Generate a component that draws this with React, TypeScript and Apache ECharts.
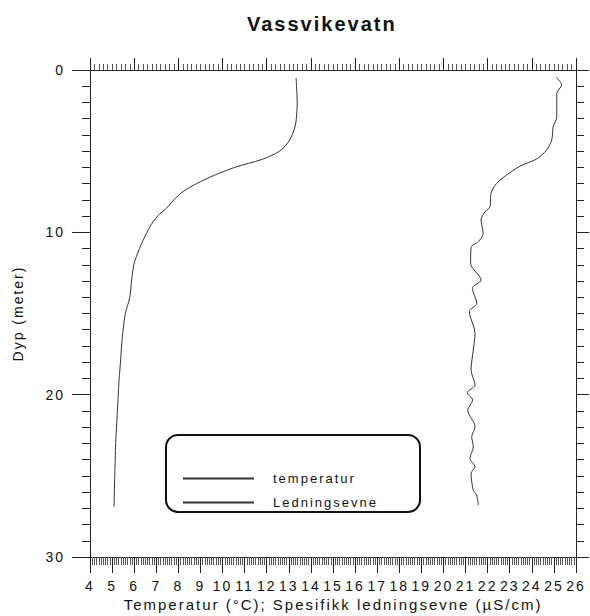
import React, { useEffect, useRef } from "react";
import * as echarts from "echarts";

const titleText = "Vassvikevatn";
const xName = "Temperatur (°C); Spesifikk ledningsevne (µS/cm)";
const yName = "Dyp (meter)";
const xMin = 4;
const xMax = 26;
const yMin = 0;
const yMax = 30;

const tempDepth = [0.5, 1, 2, 3, 3.5, 4, 4.5, 5, 5.5, 6, 6.5, 7, 7.5, 8, 8.5, 9, 9.5, 10, 10.5, 11, 11.5, 12, 13, 14, 15, 16, 17, 18, 19, 20, 21, 22, 23, 24, 25, 26, 26.9];
const temperature = [13.33, 13.35, 13.38, 13.34, 13.28, 13.15, 12.95, 12.58, 11.8, 10.55, 9.6, 8.82, 8.2, 7.8, 7.47, 7.06, 6.78, 6.58, 6.4, 6.24, 6.1, 5.98, 5.88, 5.8, 5.6, 5.5, 5.43, 5.38, 5.32, 5.28, 5.24, 5.2, 5.16, 5.14, 5.12, 5.1, 5.09];

const condDepth = [0.45, 0.92, 1.44, 2.88, 3.49, 4.31, 4.93, 5.48, 5.92, 6.47, 6.98, 7.6, 8.42, 8.73, 9.24, 10.06, 10.58, 10.92, 11.91, 12.94, 13.45, 14.37, 14.89, 16.22, 17.25, 18.48, 19.41, 19.88, 20.33, 20.95, 21.98, 22.59, 23.21, 23.93, 24.44, 24.85, 25.88, 26.19, 26.8];
const conductivity = [25.1, 25.35, 25.13, 25.13, 24.97, 24.9, 24.67, 24.22, 23.47, 22.86, 22.41, 22.15, 22.11, 21.88, 21.7, 21.8, 21.58, 21.25, 21.23, 21.7, 21.31, 21.51, 21.17, 21.43, 21.35, 21.25, 21.43, 21.08, 21.32, 21.1, 21.43, 21.28, 21.35, 21.2, 21.43, 21.25, 21.35, 21.5, 21.58];

const FONT = "'Liberation Sans', Arial, sans-serif";
const AX = "#222";

export default function App() {
  const ref = useRef<HTMLDivElement>(null);
  useEffect(() => {
    if (!ref.current) return;
    const chart = echarts.init(ref.current, null, { renderer: "svg" });
    const lineAxis = { show: true, onZero: false, lineStyle: { color: AX, width: 1 } };
    chart.setOption({
      animation: false,
      backgroundColor: "#fff",
      textStyle: { fontFamily: FONT, color: "#111" },
      title: {
        text: titleText,
        left: 242,
        top: 9,
        textStyle: { fontSize: 20, fontWeight: "bold", color: "#111", fontFamily: FONT },
      },
      grid: { left: 90, right: 14, top: 70, bottom: 59, containLabel: false, outerBoundsMode: "none" },
      legend: {
        data: ["temperatur", "Ledningsevne"],
        orient: "vertical",
        left: 177,
        top: 467,
        itemWidth: 71,
        itemHeight: 14,
        itemGap: 11,
        itemStyle: { opacity: 0 },
        textStyle: { fontSize: 13, color: "#111", fontFamily: FONT, padding: [0, 0, 0, 14] },
      },
      graphic: [
        {
          type: "rect",
          shape: { x: 166, y: 435, width: 254, height: 77, r: 12 },
          style: { fill: "transparent", stroke: "#111", lineWidth: 2 },
          silent: true,
        },
      ],
      xAxis: [
        {
          type: "value",
          position: "bottom",
          min: xMin,
          max: xMax,
          interval: 1,
          name: xName,
          nameLocation: "middle",
          nameGap: 40,
          nameMoveOverlap: false,
          nameTextStyle: { fontSize: 15, color: "#111", fontFamily: FONT },
          axisLine: lineAxis,
          axisTick: { show: true, length: 16, lineStyle: { color: AX } },
          minorTick: { show: true, splitNumber: 10, length: 8, lineStyle: { color: "#555" } },
          axisLabel: { fontSize: 14, color: "#111", margin: 22, fontFamily: FONT },
          splitLine: { show: false },
        },
        {
          type: "value",
          position: "top",
          min: xMin,
          max: xMax,
          interval: 2,
          axisLine: lineAxis,
          axisTick: { show: true, length: 12, lineStyle: { color: AX } },
          minorTick: { show: true, splitNumber: 10, length: 6, lineStyle: { color: "#555" } },
          axisLabel: { show: false },
          splitLine: { show: false },
        },
      ],
      yAxis: [
        {
          type: "value",
          position: "left",
          inverse: true,
          min: yMin,
          max: yMax,
          interval: 10,
          name: yName,
          nameLocation: "middle",
          nameGap: 65,
          nameMoveOverlap: false,
          nameTextStyle: { fontSize: 14, color: "#111", fontFamily: FONT },
          axisLine: lineAxis,
          axisTick: { show: true, length: 18, lineStyle: { color: AX } },
          minorTick: { show: true, splitNumber: 10, length: 8, lineStyle: { color: AX } },
          axisLabel: { fontSize: 14, color: "#111", margin: 25, fontFamily: FONT },
          splitLine: { show: false },
        },
        {
          type: "value",
          position: "right",
          inverse: true,
          min: yMin,
          max: yMax,
          interval: 10,
          axisLine: lineAxis,
          axisTick: { show: true, length: 13, lineStyle: { color: AX } },
          minorTick: { show: true, splitNumber: 10, length: 8, lineStyle: { color: AX } },
          axisLabel: { show: false },
          splitLine: { show: false },
        },
      ],
      series: [
        {
          name: "temperatur",
          type: "line",
          xAxisIndex: 0,
          yAxisIndex: 0,
          data: temperature.map((v, i) => [v, tempDepth[i]]),
          symbol: "none",
          showSymbol: false,
          smooth: 0.3,
          lineStyle: { color: "#333", width: 1 },
          itemStyle: { color: "#333" },
        },
        {
          name: "Ledningsevne",
          type: "line",
          xAxisIndex: 0,
          yAxisIndex: 0,
          data: conductivity.map((v, i) => [v, condDepth[i]]),
          symbol: "none",
          showSymbol: false,
          smooth: 0.3,
          lineStyle: { color: "#333", width: 1 },
          itemStyle: { color: "#333" },
        },
      ],
    });
    return () => chart.dispose();
  }, []);
  return (
    <div
      ref={ref}
      style={{ position: "fixed", left: 0, top: 0, width: 590, height: 616, letterSpacing: "2px" }}
    />
  );
}
